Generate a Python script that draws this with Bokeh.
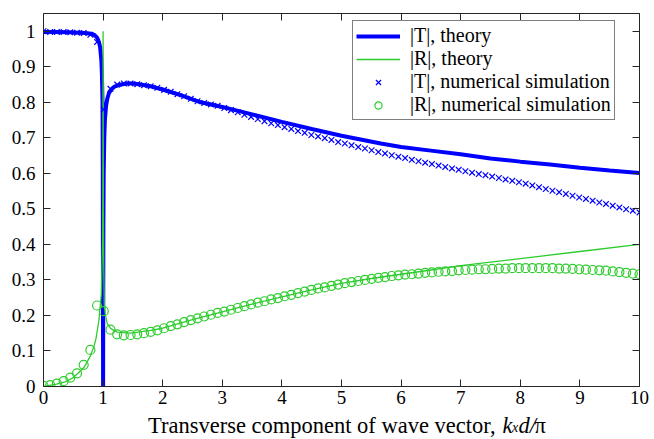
import numpy as np
from bokeh.plotting import figure
from bokeh.layouts import column
from bokeh.models import (Range1d, LinearAxis, FixedTicker, Legend, LegendItem,
                          Label, CustomJSTickFormatter)
from bokeh.embed import file_html
from bokeh.resources import INLINE

# ---------------- data ----------------
x_theory_T = [0, 0.2, 0.4, 0.6, 0.7, 0.8, 0.85, 0.9, 0.93, 0.95,
              0.97, 0.98, 0.99, 0.995, 1.0, 1.005, 1.01, 1.02, 1.03, 1.05,
              1.07, 1.1, 1.15, 1.2, 1.3, 1.4, 1.5, 1.6, 1.8, 2.0,
              2.3, 2.64, 3.0, 3.5, 4.0, 4.5, 5.0, 5.66, 6.0, 6.5,
              7.0, 7.5, 8.0, 8.5, 9.0, 9.5, 10.0]
T_theory = [0.998, 0.998, 0.997, 0.996, 0.995, 0.993, 0.99, 0.982, 0.97, 0.955,
            0.92, 0.88, 0.8, 0.6, 0.0, 0.45, 0.6, 0.7, 0.75, 0.79,
            0.81, 0.827, 0.838, 0.845, 0.85, 0.853, 0.853, 0.851, 0.845, 0.836,
            0.82, 0.80, 0.787, 0.766, 0.745, 0.725, 0.706, 0.684, 0.674, 0.664,
            0.654, 0.642, 0.633, 0.625, 0.616, 0.608, 0.601]

x_theory_R = [0, 0.1, 0.2, 0.35, 0.5, 0.57, 0.68, 0.79, 0.85, 0.88,
              0.93, 0.97, 0.99, 0.995, 1.0, 1.005, 1.01, 1.02, 1.04, 1.07,
              1.13, 1.24, 1.46, 1.8, 2.0, 2.5, 3.0, 3.5, 4.0, 4.5,
              5.0, 5.5, 6.0, 6.5, 7.0, 7.5, 8.0, 9.0, 10.0]
R_theory = [0.0, 0.003, 0.006, 0.012, 0.025, 0.036, 0.054, 0.087, 0.115, 0.134,
            0.186, 0.26, 0.4, 0.55, 1.0, 0.5, 0.35, 0.23, 0.2, 0.177,
            0.163, 0.153, 0.15, 0.158, 0.164, 0.188, 0.21, 0.232, 0.252, 0.272,
            0.29, 0.304, 0.316, 0.328, 0.34, 0.35, 0.36, 0.38, 0.40]

# simulation sample positions (90 evenly spaced samples between 0 and 10)
x_sim = list(np.round(np.linspace(0, 10, 90), 4))
T_sim = [1.0, 0.998, 0.998, 0.998, 0.997, 0.996, 0.995, 0.99, 0.97, 0.78,
         0.838, 0.85, 0.853, 0.853, 0.851, 0.848, 0.845, 0.841, 0.835,
         0.83, 0.823, 0.817, 0.81, 0.803, 0.798, 0.794, 0.79, 0.784, 0.778, 0.772,
         0.765, 0.759, 0.753, 0.747, 0.741, 0.736, 0.730, 0.725, 0.719, 0.714,
         0.708, 0.704, 0.699, 0.694, 0.688, 0.684, 0.679, 0.674, 0.670, 0.665,
         0.660, 0.656, 0.651, 0.647, 0.643, 0.638, 0.634, 0.630, 0.626, 0.622,
         0.618, 0.614, 0.610, 0.606, 0.602, 0.598, 0.595, 0.591, 0.587, 0.583,
         0.579, 0.575, 0.571, 0.566, 0.561, 0.556, 0.551, 0.547, 0.542, 0.537,
         0.532, 0.528, 0.523, 0.518, 0.514, 0.509, 0.504, 0.499, 0.495, 0.49]
R_sim = [0.002, 0.004, 0.008, 0.015, 0.025, 0.037, 0.061, 0.103, 0.228, 0.212,
         0.16, 0.147, 0.144, 0.145, 0.147, 0.15, 0.154, 0.158,
         0.164, 0.170, 0.175, 0.181, 0.187, 0.192, 0.197, 0.202, 0.207, 0.211, 0.216, 0.221,
         0.226, 0.231, 0.236, 0.240, 0.245, 0.249, 0.254, 0.258, 0.263, 0.267,
         0.272, 0.276, 0.279, 0.283, 0.287, 0.291, 0.294, 0.297, 0.300, 0.303,
         0.306, 0.308, 0.311, 0.313, 0.315, 0.316, 0.318, 0.320, 0.321, 0.323,
         0.324, 0.325, 0.327, 0.328, 0.329, 0.330, 0.330, 0.331, 0.332, 0.332,
         0.333, 0.333, 0.333, 0.333, 0.333, 0.333, 0.333, 0.332, 0.332, 0.331,
         0.330, 0.329, 0.328, 0.327, 0.326, 0.324, 0.322, 0.320, 0.318, 0.316]

x_ticks = [0, 1, 2, 3, 4, 5, 6, 7, 8, 9, 10]
y_ticks = [0, 0.1, 0.2, 0.3, 0.4, 0.5, 0.6, 0.7, 0.8, 0.9, 1]
y_tick_labels = ["0", "0.1", "0.2", "0.3", "0.4", "0.5", "0.6", "0.7", "0.8", "0.9", "1"]

legend_labels = ["|T|, theory", "|R|, theory",
                 "|T|, numerical simulation", "|R|, numerical simulation"]

# ---------------- styling ----------------
FONT = "Liberation Serif"
BLUE = "#0000ff"
GREEN = "#2ecc2e"
AXIS = "#262626"
W = 654
H_MAIN = 412

p = figure(width=W, height=H_MAIN, x_range=Range1d(0, 10), y_range=Range1d(0, 1.05),
           output_backend="svg", toolbar_location=None,
           min_border_left=43, min_border_right=15, min_border_top=13,
           min_border_bottom=H_MAIN - 386)
p.xgrid.visible = False
p.ygrid.visible = False
p.outline_line_color = None
p.background_fill_color = "white"
p.border_fill_color = "white"

def style_axis(ax, labels=True):
    ax.axis_line_color = AXIS
    ax.axis_line_width = 1
    ax.major_tick_line_color = AXIS
    ax.major_tick_in = 7
    ax.major_tick_out = 0
    ax.minor_tick_in = 0
    ax.minor_tick_out = 0
    ax.major_label_text_font = FONT
    ax.major_label_text_color = "black"
    ax.major_label_text_font_size = "19px"
    if not labels:
        ax.formatter = CustomJSTickFormatter(code="return ''")
        ax.major_label_text_font_size = "0px"
        ax.major_label_standoff = 0

xb = p.xaxis[0]
yl = p.yaxis[0]
xb.ticker = FixedTicker(ticks=x_ticks)
yl.ticker = FixedTicker(ticks=y_ticks)
yl.major_label_overrides = {t: s for t, s in zip(y_ticks, y_tick_labels)}
style_axis(xb)
style_axis(yl)
xb.major_label_standoff = 4
yl.major_label_standoff = 8

xt = LinearAxis(ticker=FixedTicker(ticks=x_ticks))
yr = LinearAxis(ticker=FixedTicker(ticks=y_ticks))
style_axis(xt, labels=False)
style_axis(yr, labels=False)
p.add_layout(xt, "above")
p.add_layout(yr, "right")

# ---------------- glyphs ----------------
rT = p.line(x_theory_T, T_theory, line_color=BLUE, line_width=4)
rR = p.line(x_theory_R, R_theory, line_color=GREEN, line_width=1.3)
rTs = p.scatter(x_sim, T_sim, marker="x", size=8, line_color=BLUE, line_width=1.2)
rRs = p.scatter(x_sim, R_sim, marker="circle", size=9, line_color=GREEN,
                fill_color=None, line_width=1.2)

legend = Legend(items=[LegendItem(label=legend_labels[0], renderers=[rT]),
                       LegendItem(label=legend_labels[1], renderers=[rR]),
                       LegendItem(label=legend_labels[2], renderers=[rTs]),
                       LegendItem(label=legend_labels[3], renderers=[rRs])],
                location=(309, 266),
                border_line_color="black", border_line_width=1,
                background_fill_color="white", background_fill_alpha=1,
                label_text_font=FONT, label_text_font_size="20px",
                label_text_line_height=0.9,
                label_text_color="black",
                padding=3, spacing=0, margin=0,
                glyph_width=44, glyph_height=18, label_height=18, label_standoff=10)
p.add_layout(legend)

# ---------------- x axis title (mixed styles) in a strip below ----------------
t = figure(width=W, height=439 - H_MAIN, x_range=Range1d(0, 10), y_range=Range1d(0, 1),
           output_backend="svg", toolbar_location=None,
           x_axis_location=None, y_axis_location=None,
           min_border_left=43, min_border_right=15, min_border_top=0, min_border_bottom=0)
t.xgrid.visible = False
t.ygrid.visible = False
t.outline_line_color = None
t.background_fill_color = "white"
t.border_fill_color = "white"

ty = 0.537
TS = "22.5px"
t.add_layout(Label(x=7.584, y=ty, text="Transverse component of wave vector,",
                   text_font=FONT, text_font_size=TS, text_color="black",
                   text_baseline="alphabetic", text_align="right"))
t.add_layout(Label(x=7.70, y=ty, text="k", text_font=FONT, text_font_style="italic",
                   text_font_size=TS, text_color="black",
                   text_baseline="alphabetic", text_align="left"))
t.add_layout(Label(x=7.86, y=ty - 0.11, text="x", text_font=FONT, text_font_style="italic",
                   text_font_size="14px", text_color="black",
                   text_baseline="alphabetic", text_align="left"))
t.add_layout(Label(x=7.97, y=ty, text="d/", text_font=FONT, text_font_style="italic",
                   text_font_size=TS, text_color="black",
                   text_baseline="alphabetic", text_align="left"))
t.add_layout(Label(x=8.238, y=ty, text="π", text_font=FONT,
                   text_font_size=TS, text_color="black",
                   text_baseline="alphabetic", text_align="left"))

layout = column(p, t, spacing=0)
open("out.html", "w").write(file_html(layout, INLINE))
